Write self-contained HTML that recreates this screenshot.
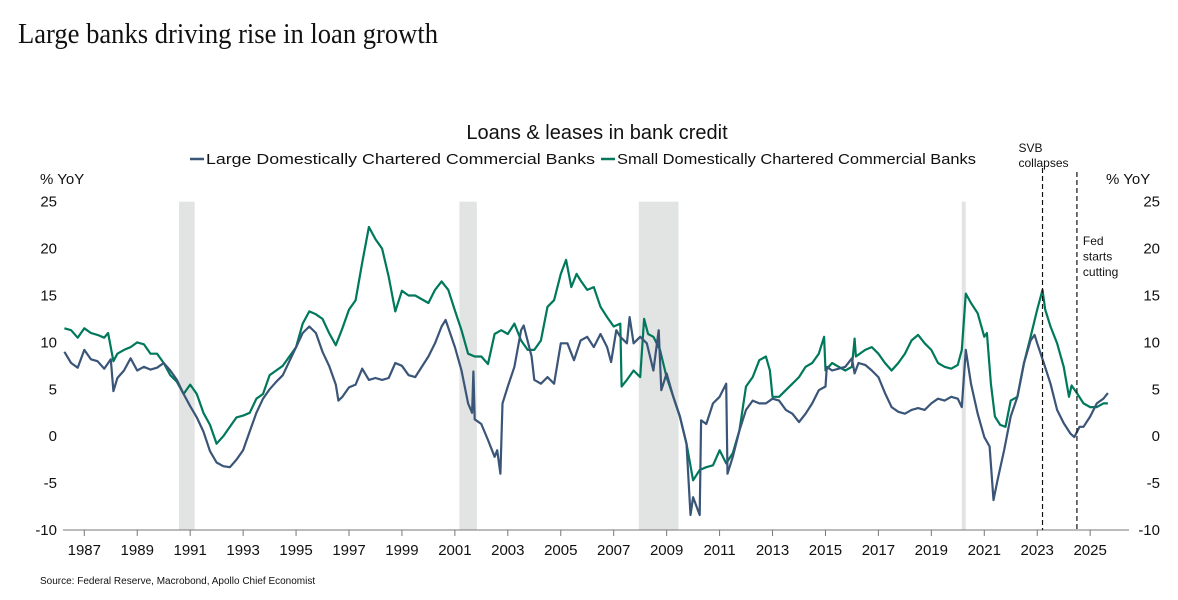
<!DOCTYPE html>
<html><head><meta charset="utf-8"><style>
body{margin:0;background:#fff;width:1178px;height:595px;overflow:hidden;font-family:"Liberation Sans",sans-serif}
</style></head><body>
<svg id="chart" width="1178" height="595" viewBox="0 0 1178 595" xmlns="http://www.w3.org/2000/svg">
<text x="18" y="43" font-family="Liberation Serif,serif" font-size="28" fill="#111" textLength="420" lengthAdjust="spacingAndGlyphs">Large banks driving rise in loan growth</text>
<text x="597" y="139" text-anchor="middle" font-size="20" fill="#111">Loans &amp; leases in bank credit</text>
<g font-size="15" fill="#111">
<line x1="190" y1="159" x2="204" y2="159" stroke="#3a5578" stroke-width="2.5"/>
<text x="206" y="164" textLength="389" lengthAdjust="spacingAndGlyphs">Large Domestically Chartered Commercial Banks</text>
<line x1="601" y1="159" x2="615" y2="159" stroke="#00785c" stroke-width="2.5"/>
<text x="617" y="164" textLength="359" lengthAdjust="spacingAndGlyphs">Small Domestically Chartered Commercial Banks</text>
</g>
<text x="40" y="184" font-size="15" fill="#111">% YoY</text>
<text x="1106" y="184" font-size="15" fill="#111">% YoY</text>
<g id="bands"></g>
<g id="axes"></g>
<g id="lines"></g>
<g id="annos"></g>
<text x="40" y="584" font-size="10" fill="#111">Source: Federal Reserve, Macrobond, Apollo Chief Economist</text>
</svg>
<script>
const yTicks=[25,20,15,10,5,0,-5,-10];
const xTickYears=[1987,1989,1991,1993,1995,1997,1999,2001,2003,2005,2007,2009,2011,2013,2015,2017,2019,2021,2023,2025];
const recessions=[[1990.58,1991.17],[2001.17,2001.83],[2007.95,2009.45],[2020.15,2020.3]];
const events=[{label:["SVB","collapses"],year:2023.2},{label:["Fed","starts","cutting"],year:2024.5}];
const largeDates=[1986.25,1986.5,1986.75,1987,1987.25,1987.5,1987.75,1988,1988.1,1988.25,1988.5,1988.75,1989,1989.25,1989.5,1989.75,1990,1990.25,1990.5,1990.75,1991,1991.25,1991.5,1991.75,1992,1992.25,1992.5,1992.75,1993,1993.25,1993.5,1993.75,1994,1994.25,1994.5,1994.75,1995,1995.25,1995.5,1995.75,1996,1996.25,1996.5,1996.6,1996.75,1997,1997.25,1997.5,1997.75,1998,1998.25,1998.5,1998.75,1999,1999.25,1999.5,2000,2000.25,2000.5,2000.65,2001,2001.25,2001.5,2001.65,2001.7,2001.75,2002,2002.25,2002.5,2002.6,2002.72,2002.8,2003,2003.25,2003.5,2003.6,2003.9,2004,2004.25,2004.5,2004.75,2005,2005.25,2005.5,2005.75,2006,2006.25,2006.5,2006.75,2006.9,2007.1,2007.25,2007.5,2007.6,2007.75,2008,2008.25,2008.5,2008.7,2008.8,2009,2009.25,2009.5,2009.75,2009.9,2010,2010.25,2010.3,2010.5,2010.75,2011,2011.25,2011.3,2011.5,2011.75,2012,2012.25,2012.5,2012.75,2013,2013.25,2013.5,2013.75,2014,2014.25,2014.5,2014.75,2015,2015.05,2015.25,2015.5,2015.75,2016,2016.1,2016.25,2016.5,2016.75,2017,2017.25,2017.5,2017.75,2018,2018.25,2018.5,2018.75,2019,2019.25,2019.5,2019.75,2020,2020.15,2020.3,2020.5,2020.75,2021,2021.2,2021.35,2021.5,2021.75,2022,2022.25,2022.5,2022.75,2022.9,2023,2023.25,2023.5,2023.75,2024,2024.25,2024.4,2024.6,2024.75,2025,2025.25,2025.5,2025.67];
const largeValues=[9.0,7.8,7.3,9.2,8.2,8.0,7.2,8.2,4.8,6.2,7.0,8.3,7.0,7.4,7.1,7.3,7.8,7.0,6.0,4.5,3.2,2.0,0.5,-1.6,-2.8,-3.2,-3.3,-2.5,-1.5,0.5,2.5,4.0,5.0,5.8,6.5,8.0,9.5,11.0,11.7,11.0,9.0,7.5,5.5,3.8,4.2,5.2,5.5,7.2,6.0,6.2,6.0,6.2,7.8,7.5,6.5,6.3,8.5,9.9,11.7,12.4,9.5,7.0,3.5,2.5,6.9,1.8,1.3,-0.4,-2.2,-1.5,-4.0,3.5,5.3,7.4,11.3,11.8,8.5,6.0,5.6,6.3,5.6,9.9,9.9,8.1,10.2,10.6,9.5,10.9,9.5,7.9,11.3,10.6,9.9,12.7,9.9,10.6,9.9,7.0,11.3,4.9,6.7,4.2,2.1,-0.8,-8.4,-6.5,-8.4,1.7,1.3,3.5,4.2,5.6,-4.0,-2.2,0.6,2.8,3.8,3.5,3.5,4.0,3.8,2.8,2.4,1.5,2.4,3.5,4.9,5.3,7.4,7.0,7.2,7.4,8.3,6.7,7.8,7.6,7.0,6.3,4.6,3.1,2.6,2.4,2.8,3.0,2.8,3.5,4.0,3.8,4.2,4.0,3.1,9.2,5.6,2.4,-0.1,-1.1,-6.8,-4.7,-1.5,2.1,4.2,7.8,10.2,10.8,9.9,7.8,5.6,2.8,1.4,0.3,-0.1,1.0,1.0,2.1,3.5,4.0,4.6];
const smallDates=[1986.25,1986.5,1986.75,1987,1987.25,1987.5,1987.75,1987.9,1988.1,1988.25,1988.5,1988.75,1989,1989.25,1989.5,1989.75,1990,1990.25,1990.5,1990.75,1991,1991.25,1991.5,1991.75,1992,1992.25,1992.5,1992.75,1993,1993.25,1993.5,1993.75,1994,1994.25,1994.5,1994.75,1995,1995.25,1995.5,1995.75,1996,1996.25,1996.5,1996.75,1997,1997.25,1997.5,1997.75,1998,1998.25,1998.5,1998.75,1999,1999.25,1999.5,2000,2000.25,2000.5,2000.75,2001,2001.25,2001.5,2001.75,2002,2002.25,2002.5,2002.75,2003,2003.25,2003.5,2003.75,2004,2004.25,2004.5,2004.75,2005,2005.2,2005.4,2005.6,2005.75,2006,2006.25,2006.5,2006.75,2007,2007.25,2007.3,2007.5,2007.75,2008,2008.15,2008.3,2008.5,2008.75,2009,2009.25,2009.5,2009.75,2010,2010.25,2010.5,2010.75,2011,2011.25,2011.5,2011.75,2012,2012.25,2012.5,2012.75,2012.9,2013,2013.25,2013.5,2013.75,2014,2014.25,2014.5,2014.75,2014.95,2015.0,2015.25,2015.5,2015.75,2016,2016.1,2016.15,2016.5,2016.75,2017,2017.25,2017.5,2017.75,2018,2018.25,2018.5,2018.75,2019,2019.25,2019.5,2019.75,2020,2020.15,2020.3,2020.5,2020.75,2021,2021.1,2021.25,2021.4,2021.6,2021.8,2022,2022.25,2022.5,2022.75,2023,2023.2,2023.3,2023.5,2023.75,2024,2024.2,2024.3,2024.5,2024.75,2025,2025.25,2025.5,2025.67];
const smallValues=[11.5,11.3,10.5,11.5,11.0,10.8,10.5,11.0,8.0,8.8,9.2,9.5,10.0,9.8,8.8,8.8,7.8,6.5,5.8,4.5,5.5,4.5,2.5,1.2,-0.8,0.0,1.0,2.0,2.2,2.5,4.0,4.5,6.5,7.0,7.5,8.5,9.5,12.0,13.3,13.0,12.5,11.0,9.7,11.5,13.5,14.5,18.5,22.3,21.0,20.0,17.0,13.3,15.5,15.0,15.0,14.2,15.6,16.5,15.6,13.4,11.3,8.8,8.5,8.5,7.7,10.9,11.3,10.9,12.0,10.2,9.2,9.2,10.2,13.8,14.5,17.3,18.8,15.9,17.3,16.6,15.6,15.9,13.8,12.7,11.7,12.0,5.3,6.0,7.0,6.3,12.5,10.9,10.6,9.2,6.3,4.2,2.1,-0.8,-4.7,-3.6,-3.3,-3.1,-1.5,-2.9,-1.8,0.6,5.3,6.3,8.1,8.5,7.0,4.2,4.2,4.9,5.6,6.3,7.4,7.8,8.8,10.6,7.0,7.8,7.4,7.0,7.4,10.4,8.5,9.2,9.5,8.8,7.8,7.0,7.8,8.8,10.2,10.8,9.9,9.2,7.8,7.4,7.2,7.6,9.2,15.2,14.2,13.1,10.6,11.0,5.6,2.1,1.2,1.0,3.8,4.2,7.8,10.6,13.5,15.6,13.5,11.7,9.9,7.4,4.2,5.4,4.6,3.5,3.1,3.1,3.5,3.5];

const NS="http://www.w3.org/2000/svg";
const X0=84.3,PX_YEAR=26.47,Y0=436.2,PX_UNIT=9.38;
function xs(y){return X0+(y-1987)*PX_YEAR;}
function ys(v){return Y0-v*PX_UNIT;}
function mk(tag,attrs,parent){const e=document.createElementNS(NS,tag);for(const k in attrs)e.setAttribute(k,attrs[k]);parent.appendChild(e);return e;}
const gBands=document.getElementById('bands'),gAxes=document.getElementById('axes'),gLines=document.getElementById('lines'),gAnnos=document.getElementById('annos');
const plotTop=ys(25),plotBot=ys(-10);
recessions.forEach(r=>{
 const e=mk('rect',{x:xs(r[0]),y:plotTop,width:xs(r[1])-xs(r[0]),height:plotBot-plotTop,fill:'#e2e3e3'},gBands);
 
 
});
const ax=mk('line',{x1:63,y1:plotBot,x2:1129,y2:plotBot,stroke:'#777','stroke-width':1},gAxes);


xTickYears.forEach(yr=>{
 const t=mk('line',{x1:xs(yr),y1:plotBot,x2:xs(yr),y2:plotBot+6,stroke:'#777'},gAxes);
 
 
 const l=mk('text',{x:xs(yr),y:plotBot+25,'text-anchor':'middle','font-size':15,fill:'#111'},gAxes);
 l.textContent=yr;
 
 
});
yTicks.forEach(v=>{
 const a=mk('text',{x:57,y:ys(v)+5,'text-anchor':'end','font-size':15,fill:'#111'},gAxes);
 a.textContent=v;
 
 
 const b=mk('text',{x:1160,y:ys(v)+5,'text-anchor':'end','font-size':15,fill:'#111'},gAxes);
 b.textContent=v;
 
 
});
function series(dates,vals,color,name){
 const n=Math.min(dates.length,vals.length);
 let d='';
 for(let i=0;i<n;i++)d+=(i?'L':'M')+xs(dates[i]).toFixed(1)+','+ys(vals[i]).toFixed(1);
 const p=mk('path',{d:d,fill:'none',stroke:color,'stroke-width':2.2,'stroke-linejoin':'round'},gLines);
 
 
}
series(smallDates,smallValues,'#00785c','small-banks-line');
series(largeDates,largeValues,'#3a5578','large-banks-line');
events.forEach((ev,i)=>{
 const x=xs(ev.year);
 const ln=mk('line',{x1:x,y1:i==0?168:172,x2:x,y2:plotBot,stroke:'#111','stroke-width':1.2,'stroke-dasharray':'5,3'},gAnnos);
 
 
 ev.label.forEach((s,j)=>{
  const t=mk('text',i==0?{x:x-24,y:152+j*15,'font-size':12,fill:'#111'}:{x:x+6,y:245+j*15.5,'font-size':12,fill:'#111'},gAnnos);
  t.textContent=s;
  
  
 });
});
</script>
</body></html>
